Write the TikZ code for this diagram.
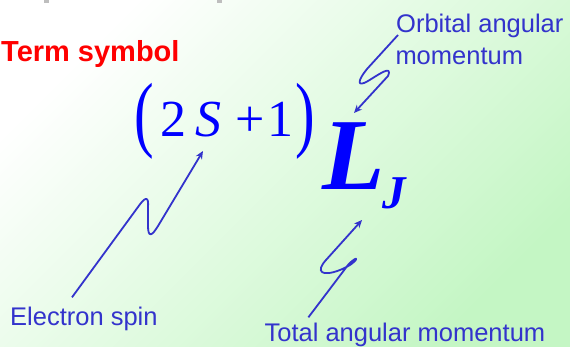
\documentclass[tikz,border=0pt]{standalone}
\usepackage{fontspec}
\setmainfont{Liberation Serif}
\setsansfont{Liberation Sans}
\usetikzlibrary{arrows.meta}
\definecolor{notecol}{RGB}{51,51,204}
\definecolor{bgend}{RGB}{196,246,196}
\definecolor{markgray}{RGB}{190,190,190}

\begin{document}
\begin{tikzpicture}[x=1pt, y=-1pt,
  every node/.style={inner sep=0pt, anchor=base west},
  note/.style={text=notecol, font=\sffamily\fontsize{25.5}{30}\selectfont},
  sym/.style={text=blue, font=\fontsize{52}{60}\selectfont},
  paren/.style={text=blue, font=\fontsize{84}{90}\selectfont},
  wiggle/.style={draw=notecol, line width=1.8pt, line join=round, -{Stealth[length=8pt,width=7pt]}}]
  \useasboundingbox (0,0) rectangle (570,347);
  \shade[top color=white, bottom color=bgend, shading angle=45] (0,0) rectangle (570,347);
  \fill[markgray] (44,0) rectangle (49,3);
  \fill[markgray] (217,0) rectangle (222,3);

  \node[text=red, font=\sffamily\bfseries\fontsize{29}{34}\selectfont] (title) at (1,61.5) {Term symbol};

  % the term symbol itself
  \node[paren] (lpar) at (134.2,141.8) {\scalebox{0.7}[1]{(}};
  \node[sym] (two) at (160.4,137) {2};
  \node[sym] (ess) at (195,137) {\itshape S};
  \node[sym] (plus) at (235.4,137) {+};
  \node[sym] (one) at (267.2,137) {1};
  \node[paren] (rpar) at (295.3,141.8) {\scalebox{0.7}[1]{)}};
  \node[text=blue, font=\bfseries\itshape\fontsize{102}{110}\selectfont] (ell) at (322,190) {L};
  \node[text=blue, font=\bfseries\itshape\fontsize{47}{50}\selectfont] (jay) at (382,208.5) {J};

  % labels
  \node[note] (spin) at (10,325) {Electron spin};
  \node[note] (orb) at (396,33) {Orbital angular};
  \node[note] (orb2) at (395.3,65) {momentum};
  \node[note] (tot) at (264.4,341) {Total angular momentum};

  % wiggly arrows
  \coordinate (spintip) at (203,151);
  \draw[wiggle] ([shift={(62pt,9pt)}]spin.north west) -- (138,207)
    .. controls (145,197) and (149,195) .. (148,208) -- (148,226)
    .. controls (148,238) and (152,236) .. (158,226) -- (spintip);

  \coordinate (orbtip) at (354,113);
  \draw[wiggle] ([shift={(2pt,-2pt)}]orb.base west) -- (367,69)
    .. controls (358,80) and (356,88) .. (368,81)
    .. controls (378,75) and (393,64) .. (388,76) -- (orbtip);

  \coordinate (tottip) at (362,220);
  \draw[wiggle] ([shift={(44pt,5pt)}]tot.north west) -- (348,265)
    .. controls (360,252) and (360,262) .. (340,270)
    .. controls (322,277) and (315,272) .. (326,260) -- (tottip);
\end{tikzpicture}
\end{document}
